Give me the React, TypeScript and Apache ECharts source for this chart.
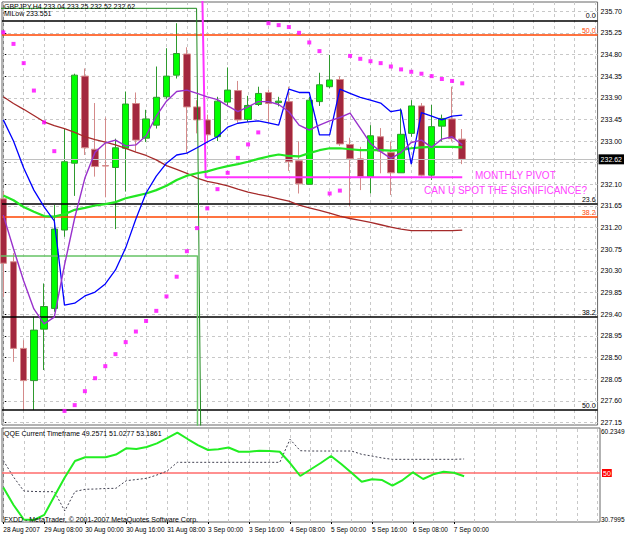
import React, { useEffect, useRef } from "react";
import * as echarts from "echarts";

// ---- GBPJPY H4 bars (28 Aug 2007 .. 7 Sep 2007 04:00) ----
const opens = [231.80, 230.49, 228.69, 228.02, 229.09, 229.52, 231.15, 232.54, 234.35, 232.83, 232.49, 232.45, 232.85, 233.78, 233.06, 233.33, 233.92, 234.37, 234.81, 233.71, 233.44, 233.09, 233.81, 234.05, 233.45, 233.76, 234.01, 233.80, 233.82, 232.59, 232.10, 233.82, 234.13, 234.28, 232.93, 232.63, 232.26, 233.09, 232.76, 232.34, 233.16, 233.73, 232.29, 233.31, 233.46, 233.04];
const highs = [231.95, 230.67, 228.86, 229.35, 230.04, 231.67, 233.27, 234.40, 234.51, 233.79, 233.49, 233.05, 234.03, 234.01, 233.65, 234.55, 234.93, 235.45, 234.95, 233.85, 233.55, 233.92, 234.53, 234.25, 233.94, 234.13, 234.07, 233.92, 234.13, 232.99, 233.92, 234.42, 234.79, 234.35, 233.07, 232.88, 233.33, 233.27, 232.99, 233.68, 233.85, 233.79, 233.75, 233.55, 234.13, 233.25];
const lows = [229.76, 228.41, 227.41, 227.41, 228.24, 229.45, 231.01, 231.86, 232.71, 232.26, 231.83, 231.17, 231.95, 232.78, 232.98, 233.26, 233.88, 234.30, 232.75, 233.16, 232.95, 233.00, 233.75, 233.38, 233.40, 233.73, 233.37, 233.72, 232.38, 231.91, 232.10, 233.73, 234.10, 232.90, 231.64, 231.98, 231.91, 232.33, 231.88, 232.34, 233.09, 232.26, 232.19, 232.99, 232.99, 232.52];
const closes = [230.46, 228.69, 228.02, 229.07, 229.56, 231.17, 232.57, 234.37, 232.86, 232.47, 232.48, 232.86, 233.77, 233.02, 233.46, 233.91, 234.35, 234.82, 233.71, 233.44, 233.13, 233.83, 234.06, 233.44, 233.74, 233.99, 233.78, 233.83, 232.57, 232.11, 233.85, 234.17, 234.27, 232.94, 232.63, 232.26, 233.11, 232.79, 232.34, 233.14, 233.73, 232.29, 233.30, 233.47, 233.05, 232.62];

// ---- indicators on price ----
const sarValues = [235.26, 235.02, 234.62, 234.05, 233.39, 232.79, 227.39, 227.51, 227.80, 228.07, 228.32, 228.57, 228.82, 229.04, 229.26, 229.47, 229.77, 230.18, 230.71, 231.19, 231.60, 232.00, 232.34, 232.65, 232.93, 233.18, 235.45, 235.41, 235.37, 235.25, 235.05, 234.87, 231.91, 231.97, 234.77, 234.71, 234.66, 234.62, 234.55, 234.49, 234.44, 234.40, 234.35, 234.29, 234.25, 234.20];
const blueMA = [233.44, 233.00, 232.44, 231.98, 231.63, 231.34, 229.59, 229.63, 229.78, 229.86, 230.03, 230.32, 230.78, 231.38, 231.92, 232.27, 232.54, 232.71, 232.75, 232.86, 232.98, 233.09, 233.29, 233.37, 233.40, 233.42, 233.38, 233.33, 234.08, 234.01, 234.01, 233.13, 233.13, 234.08, 233.99, 233.91, 233.85, 233.79, 233.61, 233.65, 232.52, 233.59, 233.52, 233.44, 233.52, 233.54];
const purpleMA = [231.46, 230.76, 230.09, 229.51, 229.20, 229.34, 230.42, 231.40, 232.23, 232.77, 232.96, 233.02, 232.90, 232.92, 233.11, 233.52, 233.83, 234.03, 234.06, 233.99, 233.92, 233.86, 233.73, 233.61, 233.71, 233.82, 233.82, 233.76, 233.61, 233.33, 233.23, 233.33, 233.42, 233.49, 233.58, 233.27, 232.95, 232.78, 232.64, 232.76, 232.97, 233.02, 232.87, 233.04, 233.09, 232.92];
const greenMA = [231.87, 231.77, 231.63, 231.53, 231.44, 231.43, 231.48, 231.57, 231.61, 231.66, 231.69, 231.73, 231.81, 231.86, 231.91, 231.98, 232.07, 232.19, 232.28, 232.33, 232.37, 232.43, 232.48, 232.52, 232.57, 232.63, 232.68, 232.72, 232.69, 232.68, 232.75, 232.81, 232.85, 232.85, 232.83, 232.81, 232.81, 232.81, 232.80, 232.81, 232.85, 232.87, 232.88, 232.88, 232.88, 232.87];
const brownMA = [233.92, 233.78, 233.66, 233.53, 233.40, 233.32, 233.26, 233.18, 233.09, 233.03, 232.98, 232.92, 232.85, 232.77, 232.70, 232.61, 232.49, 232.41, 232.33, 232.23, 232.16, 232.12, 232.07, 232.00, 231.94, 231.89, 231.85, 231.80, 231.75, 231.67, 231.61, 231.56, 231.50, 231.44, 231.39, 231.35, 231.31, 231.26, 231.21, 231.17, 231.14, 231.14, 231.14, 231.14, 231.14, 231.15];

// drawn objects: [bar position, price]
const darkGreenPath = [[-1, 235.76], [18.95, 235.76], [19.36, 226.9]];
const lightGreenPath = [[-1, 230.61], [19.04, 230.61], [19.04, 226.9]];
const pivotPath = [[19.5, 236.2], [19.84, 232.25], [45, 232.25]];

// fibonacci levels
const fibNames = ["0.0", "50.0", "23.6", "38.2", "38.2", "50.0"];
const fibValues = [235.51, 235.20, 231.69, 231.43, 229.35, 227.41];
const fibColors = ["#000000", "#ff4500", "#000000", "#ff4500", "#000000", "#000000"];

const bidPrice = 232.62;

// ---- QQE panel ----
const qqeFast = [46.73, 42.73, 39.43, 39.32, 40.48, 44.77, 49.00, 52.73, 53.57, 53.57, 53.57, 54.20, 55.61, 55.45, 55.91, 56.75, 57.95, 59.20, 57.73, 56.36, 55.23, 55.41, 55.80, 54.84, 54.84, 55.07, 55.00, 54.84, 52.27, 49.32, 50.80, 52.27, 53.86, 52.05, 50.05, 48.02, 48.57, 48.41, 47.11, 48.41, 50.16, 48.64, 49.70, 50.30, 50.07, 49.26];
const qqeSlow = [52.84, 49.09, 45.91, 45.80, 45.75, 45.75, 41.36, 45.80, 46.30, 46.36, 46.48, 46.52, 48.25, 48.52, 48.80, 49.55, 50.45, 52.43, 52.43, 52.43, 52.43, 52.43, 52.43, 52.43, 52.43, 52.43, 52.43, 52.43, 57.66, 55.07, 55.00, 55.00, 55.00, 55.00, 55.00, 54.25, 53.86, 53.41, 53.11, 53.11, 53.11, 53.11, 53.11, 53.11, 53.11, 53.19];
const qqeLevel = 50;

// ---- axes ----
const priceTicks = [227.15, 227.60, 228.05, 228.50, 228.95, 229.40, 229.85, 230.30, 230.75, 231.20, 231.65, 232.10, 232.55, 233.00, 233.45, 233.90, 234.35, 234.80, 235.25, 235.70];
const dateLabels = ["28 Aug 2007", "29 Aug 08:00", "30 Aug 00:00", "30 Aug 16:00", "31 Aug 08:00", "3 Sep 00:00", "3 Sep 16:00", "4 Sep 08:00", "5 Sep 00:00", "5 Sep 16:00", "6 Sep 08:00", "7 Sep 00:00"];
const dateLabelBars = [0, 4, 8, 12, 16, 20, 24, 28, 32, 36, 40, 44];

const FONT = '"Liberation Sans", Arial, sans-serif';
const X_MIN = -0.127;
const X_MAX = 58.27;
const Y_MIN = 227.097;
const Y_MAX = 235.891;
const Q_MIN = 38.86;
const Q_MAX = 60.2349;

export default function App() {
  const ref = useRef<HTMLDivElement>(null);

  useEffect(() => {
    if (!ref.current) return;
    const chart = echarts.init(ref.current, null, { renderer: "svg" });

    const idx = opens.map((_, i) => i);
    const ohlc = idx.map((i) => [i, opens[i], closes[i], lows[i], highs[i]]);
    const xy = (arr: number[]) => arr.map((v, i) => [i, v]);
    const vGrid = Array.from({ length: 30 }, (_, k) => ({ xAxis: k * 2 }));
    const hGrid = priceTicks.map((p) => ({ yAxis: p }));
    const gridLineStyle = { color: "#c8c8c8", type: [3, 3], width: 1 };
    const last = opens.length - 1;
    const header = `GBPJPY,H4 ${opens[last].toFixed(2)} ${highs[last].toFixed(2)} ${lows[last].toFixed(2)} ${closes[last].toFixed(2)}`;

    const txt = (text: string, x: number, y: number, size: number, color: string) => ({
      type: "text",
      x,
      y,
      z: 100,
      silent: true,
      style: { text, fill: color, font: `${size}px ${FONT}`, verticalAlign: "middle", align: "left" },
    });

    const option: any = {
      animation: false,
      backgroundColor: "#ffffff",
      textStyle: { fontFamily: FONT },
      grid: [
        { left: 2, right: 25, top: 2, height: 423, show: true, borderColor: "#666666", borderWidth: 1 },
        { left: 2, right: 25, top: 428, height: 94, show: true, borderColor: "#666666", borderWidth: 1 },
      ],
      xAxis: [
        {
          type: "value", gridIndex: 0, min: X_MIN, max: X_MAX,
          axisLine: { show: false }, axisTick: { show: false }, axisLabel: { show: false }, splitLine: { show: false },
        },
        {
          type: "value", gridIndex: 1, min: X_MIN, max: X_MAX,
          axisLine: { show: false }, splitLine: { show: false },
          axisTick: { show: true, customValues: dateLabelBars, length: 2, lineStyle: { color: "#000" } },
          axisLabel: {
            show: true, customValues: dateLabelBars, align: "left", fontSize: 6.5, color: "#000", margin: 4, fontFamily: FONT,
            formatter: (v: number) => dateLabels[dateLabelBars.indexOf(Math.round(v))] ?? "",
          },
        },
      ],
      yAxis: [
        {
          type: "value", gridIndex: 0, position: "right", min: Y_MIN, max: Y_MAX,
          axisLine: { show: true, lineStyle: { color: "#808080" } },
          axisTick: { show: true, customValues: priceTicks, length: 3, lineStyle: { color: "#000" } },
          // 232.55 is hidden behind the current-price box
          axisLabel: {
            show: true, customValues: priceTicks.filter((p) => Math.abs(p - bidPrice) > 0.1),
            formatter: (v: number) => v.toFixed(2), fontSize: 7, color: "#000", margin: 3, fontFamily: FONT,
          },
          splitLine: { show: false },
        },
        {
          type: "value", gridIndex: 1, position: "right", min: Q_MIN, max: Q_MAX,
          axisLine: { show: true, lineStyle: { color: "#808080" } },
          axisTick: { show: false }, axisLabel: { show: false }, splitLine: { show: false },
        },
      ],
      series: [
        {
          name: "brown", type: "line", xAxisIndex: 0, yAxisIndex: 0, data: xy(brownMA), showSymbol: false, z: 3,
          lineStyle: { color: "#a52a2a", width: 1.3 },
          markLine: {
            silent: true, symbol: ["none", "none"], z: 1, label: { show: false },
            lineStyle: gridLineStyle,
            data: [...vGrid, ...hGrid],
          },
        },
        {
          name: "bars", type: "candlestick", xAxisIndex: 0, yAxisIndex: 0, data: ohlc, barWidth: 7, z: 2,
          encode: { x: 0, y: [1, 2, 3, 4] },
          itemStyle: {
            color: "#00ff00", color0: "#a3283f", borderColor: "#2e9a2e", borderColor0: "#d48a8a", borderWidth: 1,
          },
        },
        {
          name: "green", type: "line", xAxisIndex: 0, yAxisIndex: 0, data: xy(greenMA), showSymbol: false, z: 4,
          lineStyle: { color: "#22e622", width: 2.2 },
          markLine: {
            silent: true, symbol: ["none", "none"], z: 3,
            data: [
              ...fibValues.map((v, k) => ({
                yAxis: v,
                lineStyle: { color: fibColors[k], width: 1.5, type: "solid" },
                label: { show: true, formatter: fibNames[k], position: "insideEndTop", color: fibColors[k], fontSize: 7, distance: [2, 1], fontFamily: FONT },
              })),
              {
                yAxis: bidPrice,
                lineStyle: { color: "#c0c0c0", width: 1, type: "solid" },
                label: {
                  show: true, formatter: bidPrice.toFixed(2), position: "end", distance: 1, color: "#ffffff",
                  backgroundColor: "#000000", padding: [2, 2, 1, 2], fontSize: 7, fontFamily: FONT,
                },
              },
            ],
          },
        },
        {
          name: "darkGreenBox", type: "line", xAxisIndex: 0, yAxisIndex: 0, data: darkGreenPath, showSymbol: false, z: 3,
          lineStyle: { color: "#1f8a1f", width: 1 },
        },
        {
          name: "lightGreenBox", type: "line", xAxisIndex: 0, yAxisIndex: 0, data: lightGreenPath, showSymbol: false, z: 3,
          lineStyle: { color: "#66c466", width: 1.5 },
        },
        {
          name: "pivot", type: "line", xAxisIndex: 0, yAxisIndex: 0, data: pivotPath, showSymbol: false, z: 3,
          lineStyle: { color: "#ff33ff", width: 2 },
        },
        {
          name: "blue", type: "line", xAxisIndex: 0, yAxisIndex: 0, data: xy(blueMA), showSymbol: false, z: 5,
          lineStyle: { color: "#0000ff", width: 1.3 },
        },
        {
          name: "purple", type: "line", xAxisIndex: 0, yAxisIndex: 0, data: xy(purpleMA), showSymbol: false, z: 5,
          lineStyle: { color: "#9932cc", width: 1.4 },
        },
        {
          name: "sar", type: "scatter", xAxisIndex: 0, yAxisIndex: 0, data: xy(sarValues), symbol: "rect", symbolSize: 4, z: 6,
          itemStyle: { color: "#ff00ff" },
        },
        {
          name: "qqeSlow", type: "line", xAxisIndex: 1, yAxisIndex: 1, data: xy(qqeSlow), showSymbol: false, z: 3,
          lineStyle: { color: "#404050", width: 1, type: [2, 2] },
          markLine: {
            silent: true, symbol: ["none", "none"], z: 1, label: { show: false },
            lineStyle: gridLineStyle,
            data: vGrid,
          },
        },
        {
          name: "qqeFast", type: "line", xAxisIndex: 1, yAxisIndex: 1, data: xy(qqeFast), showSymbol: false, z: 4,
          lineStyle: { color: "#22ee22", width: 2 },
          markLine: {
            silent: true, symbol: ["none", "none"], z: 2,
            data: [
              {
                yAxis: qqeLevel,
                lineStyle: { color: "#ff6b6b", width: 1.5, type: "solid" },
                label: {
                  show: true, formatter: String(qqeLevel), position: "end", distance: 2, color: "#ffffff",
                  backgroundColor: "#ff0000", padding: [1, 1, 0, 1], fontSize: 7, fontFamily: FONT,
                },
              },
            ],
          },
        },
      ],
      graphic: [
        txt(header, 4, 6, 7, "#000000"),
        txt("MiLow 233.551", 4, 13.5, 7, "#000000"),
        txt("MONTHLY PIVOT", 475, 175, 10, "#ff44ff"),
        txt("CAN U SPOT THE SIGNIFICANCE?", 424, 190, 10, "#ff44ff"),
        txt("QQE Current Timeframe 49.2571 51.0277 53.1861", 4, 433.5, 7, "#000000"),
        txt("FXDD - MetaTrader, \u00a9 2001-2007 MetaQuotes Software Corp.", 4, 519, 7, "#000000"),
        txt("60.2349", 601, 431, 6.5, "#000000"),
        txt("30.7995", 601, 519, 6.5, "#000000"),
      ],
    };

    chart.setOption(option);
    return () => chart.dispose();
  }, []);

  return (
    <div
      ref={ref}
      style={{ position: "absolute", left: 0, top: 0, width: 625, height: 536, background: "#ffffff" }}
    />
  );
}
